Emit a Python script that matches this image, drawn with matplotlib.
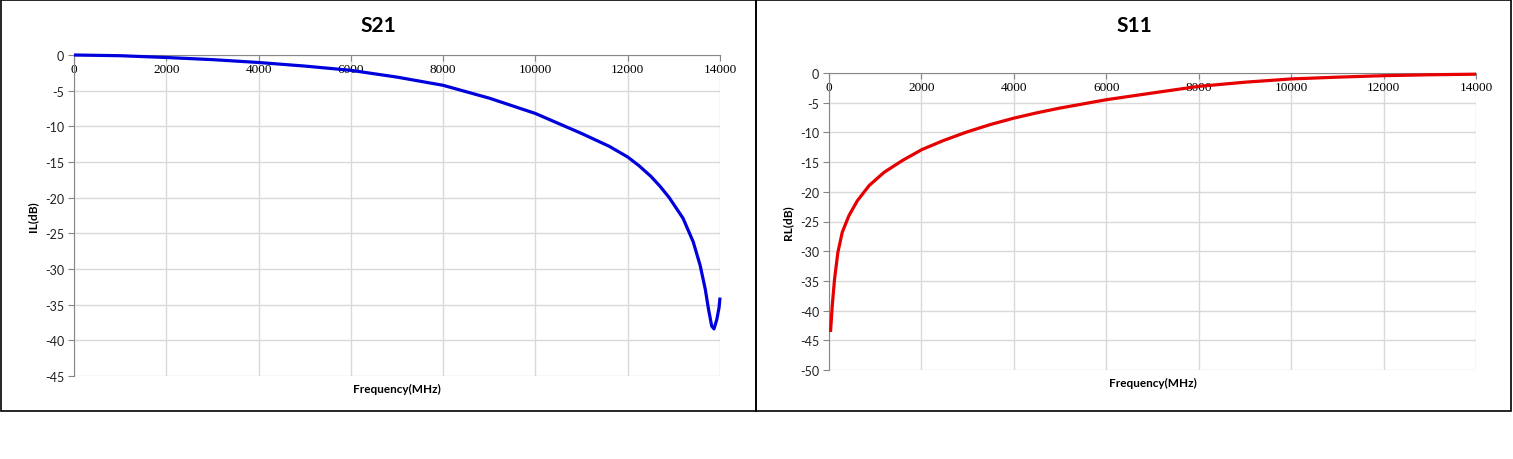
import matplotlib
matplotlib.use('Agg')
import matplotlib.pyplot as plt
from matplotlib.patches import Rectangle

plt.rcParams['font.family'] = ['Lato', 'DejaVu Sans']
plt.rcParams['axes.unicode_minus'] = False

# S21 挿入損失 (MHz, dB)
s21_freq = [0, 1000, 2000, 3000, 4000, 5000, 6000, 7000, 8000, 9000, 10000,
            11000, 11600, 12000, 12250, 12500, 12700, 12900, 13200, 13420, 13570,
            13680, 13750, 13820, 13870, 13930, 13980, 14000]
s21_db = [0, -0.1, -0.35, -0.65, -1.05, -1.55, -2.15, -3.1, -4.25, -6.05, -8.2,
          -11.0, -12.8, -14.3, -15.55, -17.0, -18.4, -20.0, -22.9, -26.2, -29.5,
          -32.8, -35.6, -38.0, -38.4, -37.1, -35.4, -34.0]

# S11 反射損失 (MHz, dB)
s11_freq = [33, 70, 120, 192, 287, 432, 614, 868, 1195, 1595, 2008, 2466,
            2974, 3481, 4000, 4500, 5000, 6000, 7100, 8000, 9000, 10000,
            11000, 12000, 13000, 14000]
s11_db = [-43.6, -39.2, -34.7, -30.2, -26.8, -24.0, -21.5, -18.95, -16.7, -14.7,
          -12.9, -11.4, -9.95, -8.7, -7.6, -6.7, -5.9, -4.5, -3.25, -2.25, -1.55,
          -1.0, -0.7, -0.45, -0.3, -0.2]

xticks = [0, 2000, 4000, 6000, 8000, 10000, 12000, 14000]

W, H = 1513, 460
fig = plt.figure(figsize=(W / 100, H / 100), dpi=100)

def px_box(left, top, right, bottom):
    return [left / W, (H - bottom) / H, (right - left) / W, (bottom - top) / H]

def setup_axes(ax, ymin, color, freq, vals, ylabel, title, box, tcx):
    ax.plot(freq, vals, color=color, lw=2.3, solid_capstyle='butt', clip_on=False, zorder=3)
    ax.set_xlim(0, 14000)
    ax.set_ylim(ymin, 0)
    ax.set_xticks(xticks)
    ax.set_yticks(list(range(ymin, 1, 5)))
    ax.grid(True, color='#d9d9d9', lw=1.0)
    ax.set_axisbelow(True)
    for s in ['top', 'right']:
        ax.spines[s].set_visible(False)
    ax.spines['bottom'].set_position(('data', 0))
    ax.spines['bottom'].set_color('#868686')
    ax.spines['left'].set_color('#868686')
    ax.tick_params(axis='y', colors='#868686', length=4, labelsize=9, labelcolor='#222222', pad=3)
    ax.tick_params(axis='x', colors='#868686', length=4, labelsize=9.5, labelcolor='black', pad=2)
    for lab in ax.get_xticklabels():
        lab.set_family('Liberation Serif')
    left, top, right, bottom = box
    fig.text(tcx / W, 1 - 26 / H, title, ha='center', va='center', fontsize=15, fontweight='bold')
    fig.text(((left + right) / 2) / W, 1 - (bottom + 12) / H, 'Frequency(MHz)',
             ha='center', va='center', fontsize=8.5, fontweight='bold')
    fig.text((left - 41) / W, 1 - ((top + bottom) / 2) / H, ylabel, rotation=90,
             ha='center', va='center', fontsize=8.5, fontweight='bold')

box1 = (74, 56, 720, 377)
box2 = (829, 74, 1476, 371)
ax1 = fig.add_axes(px_box(*box1))
ax2 = fig.add_axes(px_box(*box2))
setup_axes(ax1, -45, '#0000dd', s21_freq, s21_db, 'IL(dB)', 'S21', box1, 378)
setup_axes(ax2, -50, '#e60000', s11_freq, s11_db, 'RL(dB)', 'S11', box2, 1134)

# 枠線
for (l, t, r, b) in [(0.7, 0.7, 756, 412), (756, 0.7, 1511, 412)]:
    fig.patches.append(Rectangle((l / W, 1 - b / H), (r - l) / W, (b - t) / H,
                                 transform=fig.transFigure, fill=False,
                                 edgecolor='black', lw=1.2))

fig.savefig('out.png', dpi=100, facecolor='white')
